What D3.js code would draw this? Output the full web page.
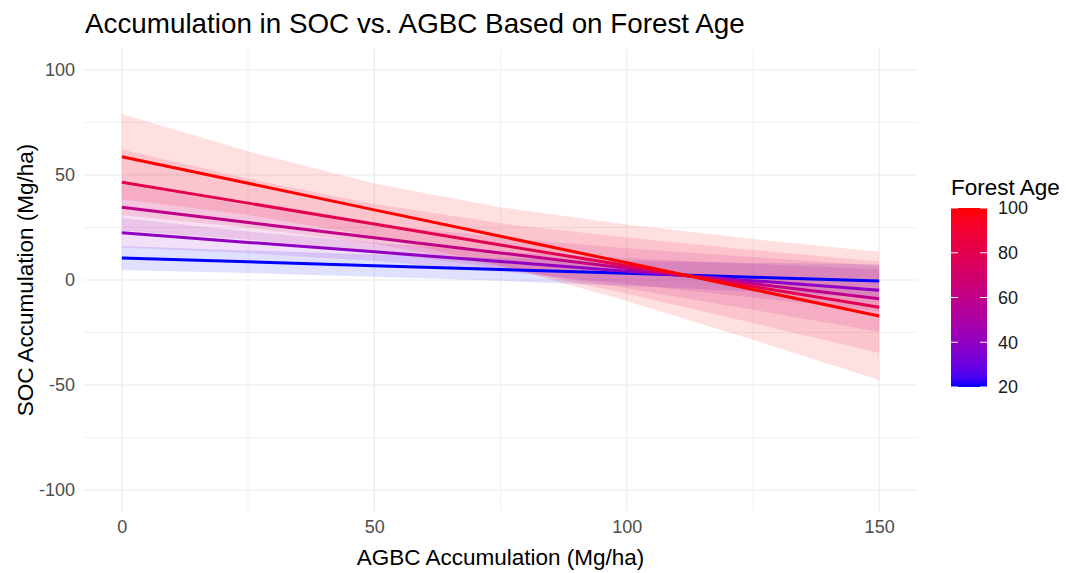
<!DOCTYPE html>
<html>
<head>
<meta charset="utf-8">
<script src="https://cdn.jsdelivr.net/npm/d3@7"></script>
<style>
  html, body { margin: 0; padding: 0; background: #ffffff; }
  svg { display: block; font-family: "Liberation Sans", Arial, sans-serif; }
</style>
</head>
<body>
<svg id="chart" width="1068" height="573"></svg>
<script>
// ---------- data ----------
const agbcPoints = [0, 25, 50, 75, 100, 125, 150];
const forestAges = [20, 40, 60, 80, 100];

const fitAge20  = [10.5, 8.7, 6.8, 5.0, 3.2, 1.3, -0.5];
const fitAge40  = [22.5, 17.9, 13.4, 8.8, 4.2, -0.3, -4.9];
const fitAge60  = [34.6, 27.4, 20.1, 12.9, 5.6, -1.7, -8.9];
const fitAge80  = [46.5, 36.6, 26.7, 16.7, 6.8, -3.1, -13.0];
const fitAge100 = [58.7, 46.1, 33.4, 20.8, 8.2, -4.5, -17.1];

const upperAge20  = [16.2, 14.1, 12.1, 10.4, 9.1, 8.1, 7.5];
const lowerAge20  = [4.8, 3.3, 1.5, -0.4, -2.7, -5.5, -8.5];
const upperAge40  = [29.5, 23.1, 17.7, 13.5, 10.3, 7.7, 5.1];
const lowerAge40  = [15.5, 12.7, 9.1, 4.1, -1.9, -8.3, -14.9];
const upperAge60  = [45.6, 35.5, 26.8, 20.2, 15.1, 10.9, 6.8];
const lowerAge60  = [23.6, 19.3, 13.4, 5.6, -3.9, -14.2, -24.6];
const upperAge80  = [62.2, 48.2, 36.2, 27.0, 20.2, 14.3, 8.8];
const lowerAge80  = [30.8, 25.0, 17.2, 6.4, -6.6, -20.5, -34.8];
const upperAge100 = [79.0, 61.3, 46.0, 34.7, 26.4, 19.5, 13.4];
const lowerAge100 = [38.4, 30.9, 20.8, 6.9, -10.0, -28.5, -47.6];

const xTicks = [0, 50, 100, 150];
const xMinorTicks = [25, 75, 125];
const yTicks = [-100, -50, 0, 50, 100];
const yMinorTicks = [-75, -25, 25, 75];
const legendTicks = [20, 40, 60, 80, 100];

const chartTitle = "Accumulation in SOC vs. AGBC Based on Forest Age";
const xTitle = "AGBC Accumulation (Mg/ha)";
const yTitle = "SOC Accumulation (Mg/ha)";
const legendTitle = "Forest Age";

// ---------- build series ----------
const series = [
  { age: 20,  fit: fitAge20,  lower: lowerAge20,  upper: upperAge20 },
  { age: 40,  fit: fitAge40,  lower: lowerAge40,  upper: upperAge40 },
  { age: 60,  fit: fitAge60,  lower: lowerAge60,  upper: upperAge60 },
  { age: 80,  fit: fitAge80,  lower: lowerAge80,  upper: upperAge80 },
  { age: 100, fit: fitAge100, lower: lowerAge100, upper: upperAge100 }
].map(s => ({
  age: s.age,
  pts: agbcPoints.map((x, i) => ({ x, y: s.fit[i], lo: s.lower[i], hi: s.upper[i] }))
}));

// ---------- layout ----------
const svg = d3.select("#chart");
const panel = { left: 84, right: 917, top: 49, bottom: 511 };

const x = d3.scaleLinear().domain([-7.5, 157.5]).range([panel.left, panel.right]);
const y = d3.scaleLinear().domain([-110, 110]).range([panel.bottom, panel.top]);
const color = d3.scaleLinear().domain([20, 100]).range(["#0000ff", "#ff0000"]).interpolate(d3.interpolateLab);
const plainFmt = d => String(d);

// grid
const grid = svg.append("g");
grid.selectAll(".ymin").data(yMinorTicks).join("line")
  .attr("x1", panel.left).attr("x2", panel.right)
  .attr("y1", d => y(d)).attr("y2", d => y(d))
  .attr("stroke", "#ededed").attr("stroke-width", 0.8);
grid.selectAll(".xmin").data(xMinorTicks).join("line")
  .attr("y1", panel.top).attr("y2", panel.bottom)
  .attr("x1", d => x(d)).attr("x2", d => x(d))
  .attr("stroke", "#ededed").attr("stroke-width", 0.8);
grid.selectAll(".ymaj").data(yTicks).join("line")
  .attr("x1", panel.left).attr("x2", panel.right)
  .attr("y1", d => y(d)).attr("y2", d => y(d))
  .attr("stroke", "#ebebeb").attr("stroke-width", 1.1);
grid.selectAll(".xmaj").data(xTicks).join("line")
  .attr("y1", panel.top).attr("y2", panel.bottom)
  .attr("x1", d => x(d)).attr("x2", d => x(d))
  .attr("stroke", "#ebebeb").attr("stroke-width", 1.1);

// ribbons
const area = d3.area().x(d => x(d.x)).y0(d => y(d.lo)).y1(d => y(d.hi));
svg.append("g").selectAll("path").data(series).join("path")
  .attr("d", d => area(d.pts))
  .attr("fill", d => color(d.age))
  .attr("fill-opacity", 0.12);

// lines
const line = d3.line().x(d => x(d.x)).y(d => y(d.y));
svg.append("g").selectAll("path").data(series).join("path")
  .attr("d", d => line(d.pts))
  .attr("fill", "none")
  .attr("stroke", d => color(d.age))
  .attr("stroke-width", 3);

// axes (text only, theme_minimal)
const xAxis = d3.axisBottom(x).tickValues(xTicks).tickSize(0).tickPadding(0).tickFormat(plainFmt);
const gx = svg.append("g").attr("transform", `translate(0,${panel.bottom + 9})`).call(xAxis);
gx.select(".domain").remove();
gx.selectAll("text").attr("fill", "#4d4d4d").style("font-size", "18px")
  .attr("dy", "0.71em");

const yAxis = d3.axisLeft(y).tickValues(yTicks).tickSize(0).tickPadding(0).tickFormat(plainFmt);
const gy = svg.append("g").attr("transform", `translate(${panel.left - 9},0)`).call(yAxis);
gy.select(".domain").remove();
gy.selectAll("text").attr("fill", "#4d4d4d").style("font-size", "18px");

// titles
svg.append("text").attr("x", 85).attr("y", 33)
  .attr("fill", "#000").style("font-size", "27.8px").text(chartTitle);
svg.append("text").attr("x", (panel.left + panel.right) / 2).attr("y", 565)
  .attr("text-anchor", "middle").attr("fill", "#000").style("font-size", "22.5px").text(xTitle);
svg.append("text").attr("transform", `translate(33,${(panel.top + panel.bottom) / 2}) rotate(-90)`)
  .attr("text-anchor", "middle").attr("fill", "#000").style("font-size", "22.5px").text(yTitle);

// legend
const leg = { x: 951, w: 36, top: 208, bottom: 387 };
const ly = d3.scaleLinear().domain([20, 100]).range([leg.bottom, leg.top]);
const defs = svg.append("defs");
const grad = defs.append("linearGradient").attr("id", "ageGrad")
  .attr("x1", "0").attr("y1", "1").attr("x2", "0").attr("y2", "0");
d3.range(0, 1.0001, 0.05).forEach(t => {
  grad.append("stop").attr("offset", t).attr("stop-color", color(20 + 80 * t));
});
svg.append("rect").attr("x", leg.x).attr("y", leg.top)
  .attr("width", leg.w).attr("height", leg.bottom - leg.top)
  .attr("fill", "url(#ageGrad)");
const lt = svg.append("g");
lt.selectAll(".tl").data(legendTicks).join("line")
  .attr("x1", leg.x).attr("x2", leg.x + 7)
  .attr("y1", d => ly(d)).attr("y2", d => ly(d))
  .attr("stroke", "#fff").attr("stroke-width", 1);
lt.selectAll(".tr").data(legendTicks).join("line")
  .attr("x1", leg.x + leg.w - 7).attr("x2", leg.x + leg.w)
  .attr("y1", d => ly(d)).attr("y2", d => ly(d))
  .attr("stroke", "#fff").attr("stroke-width", 1);
lt.selectAll("text").data(legendTicks).join("text")
  .attr("x", leg.x + leg.w + 11).attr("y", d => ly(d))
  .attr("dy", "0.35em").attr("fill", "#1a1a1a").style("font-size", "18px")
  .text(d => d);
svg.append("text").attr("x", leg.x).attr("y", 195)
  .attr("fill", "#000").style("font-size", "22.5px").text(legendTitle);
</script>
</body>
</html>
